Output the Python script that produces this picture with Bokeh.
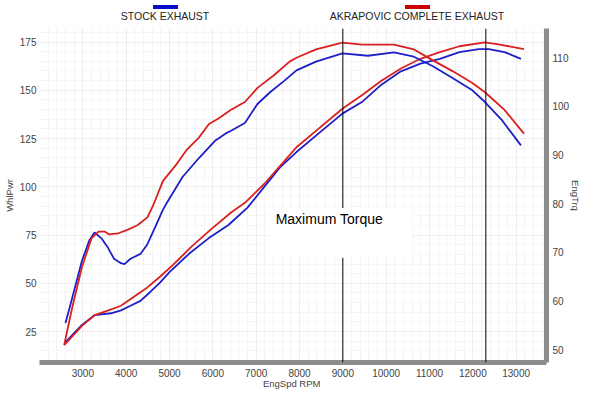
from bokeh.plotting import figure
from bokeh.models import Range1d, LinearAxis, FixedTicker, Span, Label, BoxAnnotation, Div
from bokeh.layouts import column
from bokeh.embed import file_html
from bokeh.resources import INLINE

# ---------------- data ----------------
x_ticks = [3000, 4000, 5000, 6000, 7000, 8000, 9000, 10000, 11000, 12000, 13000]
pwr_ticks = [25, 50, 75, 100, 125, 150, 175]
trq_ticks = [50, 60, 70, 80, 90, 100, 110]

series_names = ["STOCK EXHAUST", "AKRAPOVIC COMPLETE EXHAUST"]

stock_pwr_rpm = [2600, 2980, 3270, 3650, 3880, 4100, 4330, 4550, 4780, 5000, 5450, 5900,
                 6360, 6800, 7190, 7550, 7930, 8380, 8990, 9440, 9890, 10340, 10790,
                 11240, 11690, 12140, 12370, 12730, 13110]
stock_pwr = [19.5, 28.5, 33.5, 34.5, 36.0, 38.4, 40.9, 45.4, 50.4, 55.8, 65.3, 73.3,
             80.2, 89.2, 100.1, 110.1, 118.0, 126.5, 137.9, 143.9, 152.9, 159.8, 163.8,
             166.3, 169.8, 171.3, 171.3, 169.8, 166.3]

akra_pwr_rpm = [2570, 2980, 3270, 3590, 3880, 4170, 4490, 4780, 5070, 5520, 5970, 6420,
                6740, 7190, 7640, 7930, 8380, 8990, 9440, 9890, 10340, 10790, 11240,
                11690, 12280, 12590, 13180]
akra_pwr = [18.0, 28.0, 33.5, 36.0, 38.4, 42.9, 47.9, 53.4, 59.3, 69.3, 78.2, 86.7,
            91.7, 101.6, 113.0, 120.5, 129.0, 140.4, 147.4, 154.9, 161.3, 166.3, 169.8,
            172.8, 174.8, 173.8, 171.3]

stock_trq_rpm = [2600, 2750, 2980, 3150, 3270, 3430, 3585, 3720, 3880, 3960, 4100, 4330,
                 4490, 4670, 4850, 4940, 5300, 5680, 6060, 6290, 6420, 6740, 7030, 7320,
                 7640, 7930, 8380, 8990, 9580, 10180, 10640, 11090, 11540, 11990, 12280,
                 12660, 13110]
stock_trq = [55.5, 60.5, 68.3, 72.5, 74.1, 72.9, 70.9, 68.7, 67.8, 67.6, 68.7, 69.7,
             71.7, 75.2, 78.8, 80.2, 85.5, 89.4, 93.0, 94.4, 95.0, 96.6, 100.5, 102.9,
             105.2, 107.4, 109.2, 110.9, 110.4, 111.1, 110.2, 108.2, 105.8, 103.3, 100.9,
             97.3, 92.0]

akra_trq_rpm = [2570, 2750, 2980, 3200, 3360, 3500, 3610, 3810, 4040, 4260, 4490, 4620,
                4850, 5160, 5390, 5680, 5910, 6130, 6420, 6740, 7030, 7410, 7770, 7930,
                8380, 8990, 9440, 10180, 10640, 11090, 11540, 11990, 12280, 12730, 13180]
akra_trq = [51.0, 58.5, 67.0, 72.9, 74.3, 74.3, 73.7, 73.9, 74.7, 75.6, 77.2, 79.6,
            84.7, 88.1, 91.0, 93.6, 96.4, 97.5, 99.3, 100.9, 103.8, 106.4, 109.2, 110.0,
            111.7, 113.1, 112.7, 112.7, 111.7, 109.4, 107.2, 104.8, 102.9, 99.3, 94.4]

max_torque_rpm = 9000
max_power_rpm = 12300
annotation_text = "Maximum Torque"

BLUE = "#1f1fc8"
RED = "#d92020"
GRAY = "#8c8c8c"
TXT = "#444444"
FONT = "Liberation Sans"

# ---------------- legend strip (above the plot) ----------------
legend_html = f"""
<div style="position:relative;width:584px;height:17px;font-family:'Liberation Sans',Arial,sans-serif;
            font-size:10.5px;line-height:11px;color:#222222;white-space:nowrap;">
  <div style="position:absolute;left:148px;top:0px;width:25px;height:4px;background:#0a0ac8;"></div>
  <div style="position:absolute;left:60px;top:6px;width:200px;text-align:center;">{series_names[0]}</div>
  <div style="position:absolute;left:400px;top:0px;width:25px;height:4px;background:#cc0000;"></div>
  <div style="position:absolute;left:312px;top:6px;width:200px;text-align:center;">{series_names[1]}</div>
</div>
"""
legend_div = Div(text=legend_html, width=584, height=17)

# ---------------- figure ----------------
p = figure(width=584, height=364, output_backend="svg", toolbar_location=None,
           x_range=Range1d(2000, 13700), y_range=Range1d(9, 182),
           min_border_left=34, min_border_right=30, min_border_top=1, min_border_bottom=20)
p.extra_y_ranges = {"trq": Range1d(47.4, 116.0)}
p.outline_line_color = None
p.background_fill_color = "white"
p.border_fill_color = "white"

# grid
p.xaxis.ticker = FixedTicker(ticks=x_ticks, minor_ticks=list(range(2000, 13800, 200)))
p.yaxis.ticker = FixedTicker(ticks=pwr_ticks, minor_ticks=list(range(10, 185, 5)))
p.xgrid.grid_line_color = "#ececec"
p.xgrid.minor_grid_line_color = "#f3f3f3"
p.ygrid.grid_line_color = "#eeeeee"
p.ygrid.minor_grid_line_color = "#f5f5f5"

right = LinearAxis(y_range_name="trq", ticker=FixedTicker(ticks=trq_ticks))
p.add_layout(right, "right")

for ax in [p.xaxis[0], p.yaxis[0], right]:
    ax.major_tick_line_color = None
    ax.minor_tick_line_color = None
    ax.major_tick_out = 0
    ax.minor_tick_out = 0
    ax.major_tick_in = 0
    ax.minor_tick_in = 0
    ax.major_label_text_font = FONT
    ax.major_label_text_font_size = "10px"
    ax.major_label_text_color = TXT
    ax.axis_label_text_font = FONT
    ax.axis_label_text_font_size = "9.5px"
    ax.axis_label_text_font_style = "normal"
    ax.axis_label_text_color = TXT

p.xaxis.major_label_standoff = 6
p.xaxis.axis_label_standoff = -2
p.yaxis.major_label_standoff = 3
p.yaxis.axis_label_standoff = 2
right.major_label_standoff = 6
right.axis_label_standoff = -2

p.xaxis.axis_label = "EngSpd  RPM"
p.yaxis.axis_label = "WhlPwr"
right.axis_label = "EngTrq"
p.yaxis.axis_line_color = None
p.xaxis.axis_line_color = GRAY
p.xaxis.axis_line_width = 5
right.axis_line_color = GRAY
right.axis_line_width = 5

# curves
p.line(stock_pwr_rpm, stock_pwr, line_color=BLUE, line_width=1.8)
p.line(akra_pwr_rpm, akra_pwr, line_color=RED, line_width=1.8)
p.line(stock_trq_rpm, stock_trq, line_color=BLUE, line_width=1.8, y_range_name="trq")
p.line(akra_trq_rpm, akra_trq, line_color=RED, line_width=1.8, y_range_name="trq")

# vertical markers
p.add_layout(Span(location=max_torque_rpm, dimension="height", line_color="black", line_width=1))
p.add_layout(Span(location=max_power_rpm, dimension="height", line_color="black", line_width=1))

# white box behind annotation text
p.add_layout(BoxAnnotation(left=7300, right=10600, bottom=63.3, top=89.0,
                           fill_color="white", fill_alpha=1.0, line_color=None))
p.add_layout(Label(x=7450, y=83.5, text=annotation_text, text_font=FONT,
                   text_font_size="14px", text_color="black",
                   text_baseline="alphabetic"))

layout = column(legend_div, p, spacing=0)
open("out.html", "w").write(file_html(layout, INLINE))
